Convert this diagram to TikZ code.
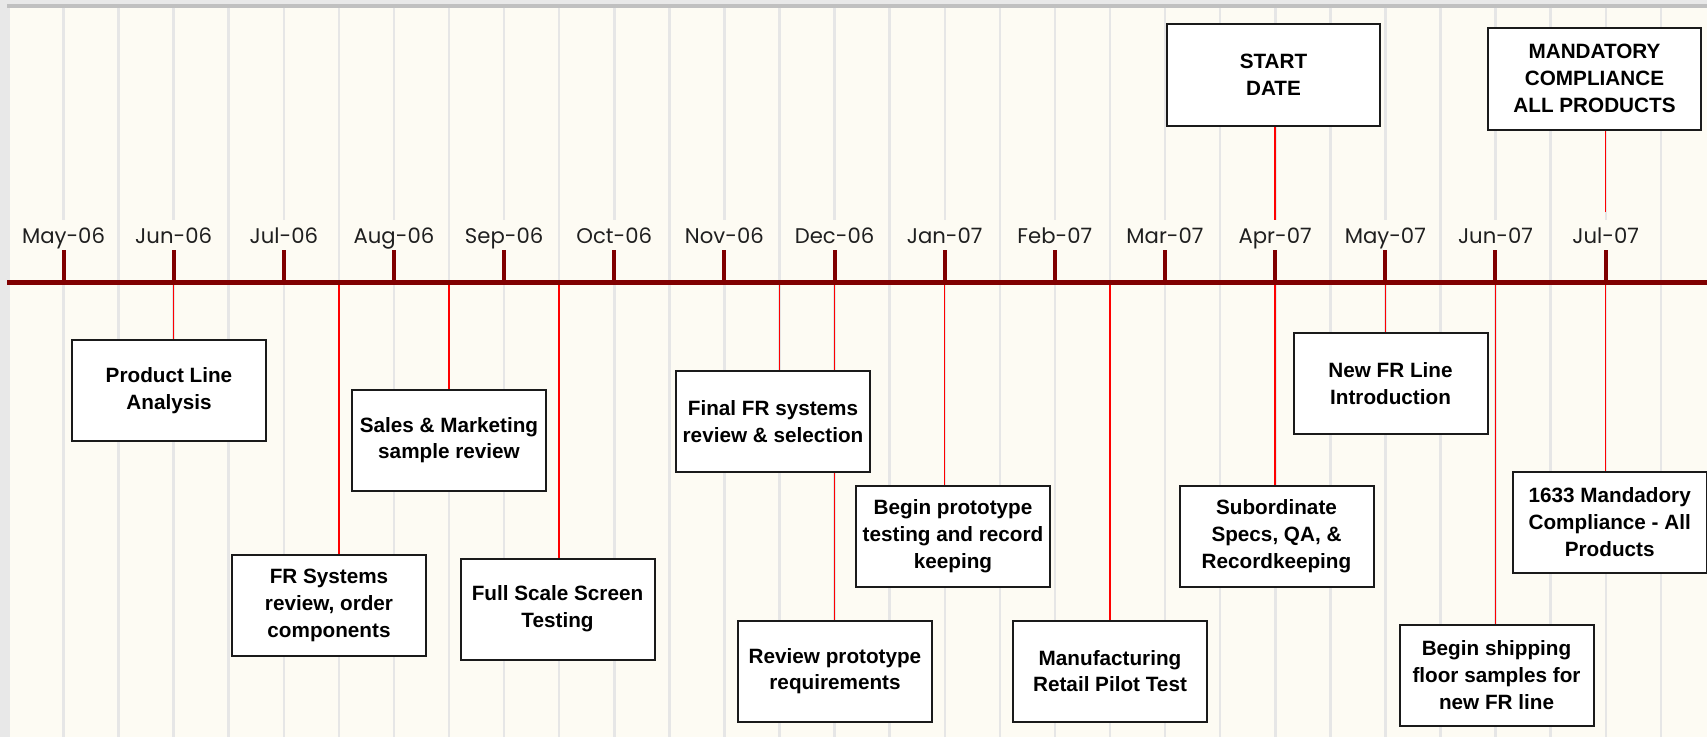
\documentclass[tikz,border=0pt]{standalone}
\usepackage{fontspec}
\setmainfont{Liberation Sans}
\newfontfamily\monthfont{Poppins}
\definecolor{cream}{RGB}{253,251,243}
\definecolor{stripecol}{RGB}{230,230,230}
\definecolor{margincol}{RGB}{232,232,232}
\definecolor{topbar}{RGB}{192,192,192}
\definecolor{axisred}{RGB}{128,0,0}
\definecolor{boxline}{RGB}{26,26,26}
\pgfdeclarelayer{bg}\pgfdeclarelayer{conn}\pgfsetlayers{bg,conn,main}
\tikzset{
 evbox/.style={draw=boxline,line width=2pt,fill=white,minimum width=194pt,minimum height=101pt,align=center,inner sep=0pt,font=\fontsize{20.7}{26.7}\selectfont\bfseries},
 topbox/.style={evbox,minimum width=213pt,minimum height=102pt},
 month/.style={fill=cream,minimum height=30pt,inner xsep=2pt,inner ysep=0pt,text height=16pt,text depth=0pt,font=\monthfont\fontsize{21.2}{25}\selectfont,text=black!88},
 monthtick/.style={axisred,line width=4pt},
 axisline/.style={axisred,line width=5pt},
 stripeline/.style={stripecol,line width=2.5pt},
 conn/.style={red,line width=1.5pt},
}
\begin{document}
\begin{tikzpicture}[x=1pt,y=-1pt]
\useasboundingbox (0,0) rectangle (1707,737);
\begin{pgfonlayer}{bg}
\fill[margincol] (0,0) rectangle (1707,737);
\fill[cream] (10,7.5) rectangle (1707,737);
\fill[topbar] (7,4.3) rectangle (1707,7.7);
\foreach \j in {0,...,29} \draw[stripeline] ({63.5+55.08*\j},7.7) -- ({63.5+55.08*\j},737);
\end{pgfonlayer}
% axis
\coordinate (axL) at (7,282);
\coordinate (axR) at (1707,282);
\draw[axisline] (axL) -- (axR);
% months
\foreach \m [count=\k from 0] in {May-06,Jun-06,Jul-06,Aug-06,Sep-06,Oct-06,Nov-06,Dec-06,Jan-07,Feb-07,Mar-07,Apr-07,May-07,Jun-07,Jul-07} {
 \node[month] (m\k) at ({63.5+110.15*\k},235) {\m};
 \coordinate (t\k) at ({63.5+110.15*\k},282);
 \draw[monthtick] (m\k.south) -- (t\k);
}
\foreach \j in {5,7,9,13,19} \coordinate (h\j) at ({63.5+55.08*\j},282);
% boxes
\node[evbox] (pla) at (169,390.5) {Product Line\\Analysis};
\node[evbox] (frs) at (329,605.5) {FR Systems\\review, order\\components};
\node[evbox] (smr) at (449,440) {Sales \& Marketing\\sample review};
\node[evbox] (fss) at (557.5,609) {Full Scale Screen\\Testing};
\node[evbox] (ffr) at (773,421.5) {Final FR systems\\review \& selection};
\node[evbox] (rpr) at (835,671) {Review prototype\\requirements};
\node[evbox] (bpt) at (953,536) {Begin prototype\\testing and record\\keeping};
\node[evbox] (mrp) at (1110,671) {Manufacturing\\Retail Pilot Test};
\node[evbox] (sub) at (1276.5,536) {Subordinate\\Specs, QA, \&\\Recordkeeping};
\node[topbox] (start) at (1273.5,75) {START\\DATE};
\node[evbox] (nfr) at (1390.5,383.5) {New FR Line\\Introduction};
\node[topbox] (mand) at (1594.5,78.5) {MANDATORY\\COMPLIANCE\\ALL PRODUCTS};
\node[evbox] (bsf) at (1496.5,675) {Begin shipping\\floor samples for\\new FR line};
\node[evbox] (mc) at (1609.7,522) {1633 Mandadory\\Compliance - All\\Products};
% connectors
\begin{pgfonlayer}{conn}
\draw[conn] (t1) -- (t1 |- pla.north);
\draw[conn] (h5) -- (h5 |- frs.north);
\draw[conn] (h7) -- (h7 |- smr.north);
\draw[conn] (h9) -- (h9 |- fss.north);
\draw[conn] (h13) -- (h13 |- ffr.north);
\draw[conn] (t7) -- (t7 |- rpr.north);
\draw[conn] (t8) -- (t8 |- bpt.north);
\draw[conn] (h19) -- (h19 |- mrp.north);
\draw[conn] (t11) -- (t11 |- sub.north);
\draw[conn] (t12) -- (t12 |- nfr.north);
\draw[conn] (t13) -- (t13 |- bsf.north);
\draw[conn] (t14) -- (t14 |- mc.north);
\draw[conn] (m11.north |- start.south) -- (m11.north);
\draw[conn,shorten >=8pt] (m14.north |- mand.south) -- (m14.north);
\end{pgfonlayer}
\end{tikzpicture}
\end{document}
